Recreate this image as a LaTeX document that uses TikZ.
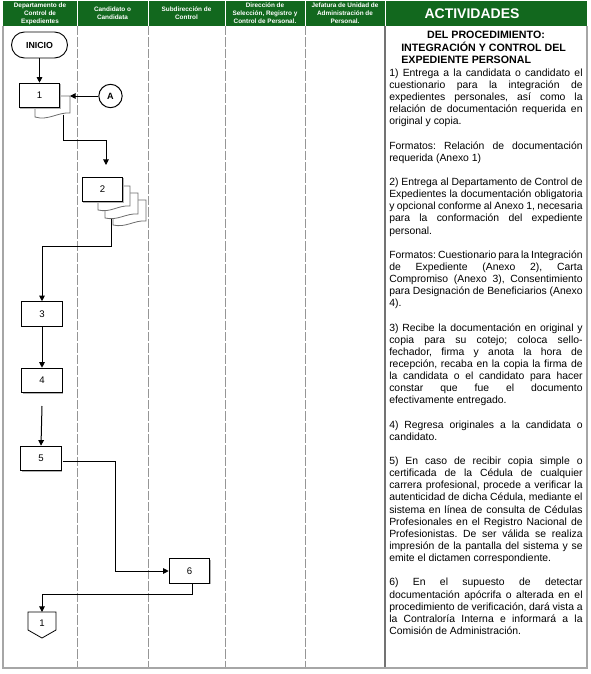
\documentclass[tikz,border=0pt]{standalone}
\usepackage{fontspec}
\setmainfont{Liberation Sans}
\newfontfamily\actfont[WordSpace={1,1.5,1.6}]{Liberation Sans}
\usetikzlibrary{arrows.meta,shapes.geometric,shapes.misc,shadows}
\definecolor{hdrgreen}{RGB}{18,104,30}
\definecolor{lanegray}{RGB}{150,150,150}
\definecolor{docgray}{RGB}{110,110,110}
\newlength\actw
\setlength\actw{145pt}
\newcommand\jl[1]{\makebox[\actw][s]{#1}}
\frenchspacing
\begin{document}
\frenchspacing
\begin{tikzpicture}[x=0.75pt,y=-0.75pt,
  hdr/.style={text=white,font=\bfseries\fontsize{4.8}{6}\selectfont,align=center,inner sep=0pt},
  procbox/.style={draw=black,line width=0.7pt,fill=white,minimum width=30.5pt,minimum height=18.5pt,inner sep=0pt,font=\fontsize{7.2}{8}\selectfont,
     drop shadow={shadow xshift=0.8pt,shadow yshift=-0.8pt,fill=black!30,opacity=1}},
  docback/.style={draw=docgray,line width=0.6pt,fill=white},
  arr/.style={draw=black,line width=0.75pt,-{Triangle[length=4.2pt,width=4.2pt]}},
  lanedash/.style={draw=lanegray,line width=0.6pt,dash pattern=on 7pt off 1.5pt},
  acttext/.style={anchor=north west,inner sep=0pt,align=left,font=\actfont\frenchspacing\fontsize{7.8}{9.1}\selectfont},
  ]
\useasboundingbox (0,0) rectangle (590,674);
\fill[white] (0,0) rectangle (590,674);

% header
\fill[hdrgreen] (3,1) rectangle (587,26);
\foreach \xx in {77,148,225,305,385} {\draw[white,line width=0.5pt] (\xx,1) -- (\xx,26);}
\node[hdr] (h1) at (40,13.5) {Departamento de\\Control de\\Expedientes};
\node[hdr] (h2) at (112.5,13.5) {Candidato o\\Candidata};
\node[hdr] (h3) at (186.5,13.5) {Subdirección de\\Control};
\node[hdr] (h4) at (265,13.5) {Dirección de\\Selección, Registro y\\Control de Personal.};
\node[hdr] (h5) at (345,13.5) {Jefatura de Unidad de\\Administración de\\Personal.};
\node[text=white,font=\bfseries\fontsize{10.5}{11}\selectfont,inner sep=0pt] (h6) at (472,14) {ACTIVIDADES};

% lanes
\foreach \xx in {77,148,225,305} {\draw[lanedash] (\xx,26) -- (\xx,668);}
\draw[black!55,line width=0.8pt] (385,26) -- (385,668);
\draw[black!35,line width=1.2pt] (3,26) -- (3,668) -- (587,668) -- (587,26);

% start
\node[draw=black,line width=0.7pt,rounded rectangle,minimum width=42pt,minimum height=19.5pt,inner sep=0pt,
      font=\bfseries\fontsize{6.6}{7}\selectfont] (inicio) at (39.5,45) {INICIO};

% document 1
\filldraw[docback] (35,96) -- (70,96) -- (70,113) .. controls (58,112) and (48,121) .. (35,117) -- cycle;
\node[procbox] (b1) at (39.5,95.5) {1};
\coordinate (d1e) at (70,96);
\coordinate (d1b) at (63,114.5);
\node[draw=black,line width=0.75pt,circle,minimum size=17.5pt,inner sep=0pt,font=\bfseries\fontsize{6.8}{7}\selectfont] (ca) at (110.5,96) {A};

% document 2 (multiple)
\filldraw[docback] (113,200) -- (146,200) -- (146,221) .. controls (134,220) and (126,228) .. (113,225) -- cycle;
\filldraw[docback] (105,193) -- (138,193) -- (138,214) .. controls (126,213) and (118,221) .. (105,218) -- cycle;
\filldraw[docback] (98,186) -- (130,186) -- (130,206) .. controls (118,205) and (111,213) .. (98,210) -- cycle;
\node[procbox] (b2) at (102.5,189.5) {2};
\coordinate (b2in) at (106,165);
\coordinate (d2b) at (111,218.5);
\coordinate (t1) at (63,140);
\coordinate (t2) at (111,246);

\node[procbox] (b3) at (42,314) {3};
\node[procbox] (b4) at (42,380.5) {4};
\coordinate (b4o) at (42,406);
\node[procbox] (b5) at (41,458.5) {5};
\coordinate (b5o) at (62.5,461);
\coordinate (t5) at (115,571);
\node[procbox] (b6) at (189.5,571) {6};
\coordinate (b6o) at (192,584);
\coordinate (t6) at (192,594);

% off-page connector
\filldraw[draw=black,line width=0.6pt,fill=white] (28,612) -- (56,612) -- (56,630) -- (42,638) -- (28,630) -- cycle;
\node[inner sep=0pt,font=\fontsize{7.2}{8}\selectfont] (off) at (42,623) {1};
\coordinate (offtop) at (42,612);

% connectors
\draw[arr] (inicio.south) -- (b1.north);
\draw[arr] (ca.west) -- (d1e);
\draw[arr] (d1b) -- (t1) -| (b2in);
\draw[arr] (d2b) -- (t2) -| (b3.north);
\draw[arr] (b3.south) -- (b4.north);
\draw[arr] (b4o) -- (b5.north);
\draw[arr] (b5o) -| (t5) -- (b6.west);
\draw[arr] (b6o) -- (t6) -| (offtop);

% activities
\node[inner sep=0pt,font=\bfseries\fontsize{8}{9}\selectfont] (ttl1) at (486,35) {DEL PROCEDIMIENTO:};
\node[anchor=north west,inner sep=0pt,align=left,font=\bfseries\fontsize{8}{9}\selectfont] (ttl2) at (401,41.5) {INTEGRACIÓN Y CONTROL DEL\\EXPEDIENTE PERSONAL};

\node[acttext] (act) at (389,68.5) {%
\jl{1) Entrega a la candidata o candidato el}\\
\jl{cuestionario para la integración de}\\
\jl{expedientes personales, así como la}\\
\jl{relación de documentación requerida en}\\
original y copia.\\[9.1pt]
\jl{Formatos: Relación de documentación}\\
requerida (Anexo 1)\\[9.1pt]
\jl{2) Entrega al Departamento de Control de}\\
\jl{Expedientes la documentación obligatoria}\\
\jl{y opcional conforme al Anexo 1, necesaria}\\
\jl{para la conformación del expediente}\\
personal.\\[9.1pt]
\jl{Formatos: Cuestionario para la Integración}\\
\jl{de Expediente (Anexo 2), Carta}\\
\jl{Compromiso (Anexo 3), Consentimiento}\\
\jl{para Designación de Beneficiarios (Anexo}\\
4).\\[9.1pt]
\jl{3) Recibe la documentación en original y}\\
\jl{copia para su cotejo; coloca sello-}\\
\jl{fechador, firma y anota la hora de}\\
\jl{recepción, recaba en la copia la firma de}\\
\jl{la candidata o el candidato para hacer}\\
\jl{constar que fue el documento}\\
efectivamente entregado.\\[9.1pt]
\jl{4) Regresa originales a la candidata o}\\
candidato.\\[9.1pt]
\jl{5) En caso de recibir copia simple o}\\
\jl{certificada de la Cédula de cualquier}\\
\jl{carrera profesional, procede a verificar la}\\
\jl{autenticidad de dicha Cédula, mediante el}\\
\jl{sistema en línea de consulta de Cédulas}\\
\jl{Profesionales en el Registro Nacional de}\\
\jl{Profesionistas. De ser válida se realiza}\\
\jl{impresión de la pantalla del sistema y se}\\
emite el dictamen correspondiente.\\[9.1pt]
\jl{6) En el supuesto de detectar}\\
\jl{documentación apócrifa o alterada en el}\\
\jl{procedimiento de verificación, dará vista a}\\
\jl{la Contraloría Interna e informará a la}\\
Comisión de Administración.};
\end{tikzpicture}
\end{document}
